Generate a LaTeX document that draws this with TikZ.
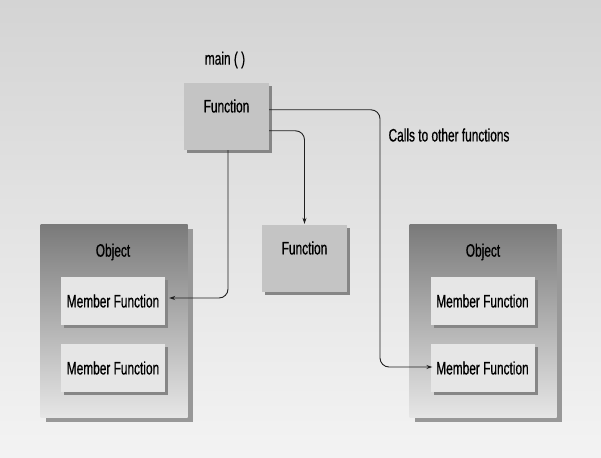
\documentclass[tikz,border=0pt]{standalone}
\usepackage{fontspec}
\setmainfont[FakeStretch=0.66,FakeBold=0.6]{Liberation Sans}
\usetikzlibrary{shadows,calc,arrows.meta}
\definecolor{bgtop}{HTML}{D4D4D4}
\definecolor{bgbot}{HTML}{F3F3F3}
\definecolor{funcfill}{HTML}{C4C4C4}
\definecolor{objtop}{HTML}{7A7A7A}
\definecolor{objbot}{HTML}{E6E6E6}
\definecolor{memfill}{HTML}{E6E6E6}
\definecolor{shad}{HTML}{868686}
\definecolor{linec}{HTML}{202020}
\begin{document}
\begin{tikzpicture}[x=1pt,y=-1pt,
  every node/.style={font=\fontsize{18}{20}\selectfont, text=black},
  fbox/.style={rectangle, fill=funcfill, minimum width=85pt, minimum height=67pt,
    inner sep=0pt, draw=none,
    drop shadow={shadow xshift=3pt, shadow yshift=-3pt, fill=shad, opacity=1}},
  objbox/.style={rectangle, top color=objtop, bottom color=objbot,
    minimum width=147pt, minimum height=193pt, inner sep=0pt, draw=none,
    drop shadow={shadow xshift=5pt, shadow yshift=-4pt, fill=shad!85, opacity=1}},
  mbox/.style={rectangle, fill=memfill, minimum width=104pt, minimum height=48pt,
    inner sep=0pt, draw=none,
    drop shadow={shadow xshift=3pt, shadow yshift=-3pt, fill=shad, opacity=1}},
  plain/.style={inner sep=0pt},
  conn/.style={draw=linec, line width=0.9pt, rounded corners=9pt,
    -{Stealth[length=6pt,width=4pt]}}
]
\useasboundingbox (0,0) rectangle (601,457);
\shade[top color=bgtop, bottom color=bgbot] (0,0) rectangle (601,457);

% top function
\node[plain] (mainlbl) at (225,60) {main ( )};
\node[fbox] (f1) at (226.5,116.5) {};
\node[plain] (f1t) at (226.5,106) {Function};

% middle function
\node[fbox] (f2) at (304.5,258.5) {};
\node[plain] (f2t) at (304.5,248) {Function};

% left object
\node[objbox] (o1) at (114,321) {};
\node[plain] (o1t) at (113,252) {Object};
\node[mbox] (m1) at (113,301) {Member Function};
\node[mbox] (m2) at (113,368) {Member Function};

% right object
\node[objbox] (o2) at (483,321) {};
\node[plain] (o2t) at (483,252) {Object};
\node[mbox] (m3) at (482.5,301) {Member Function};
\node[mbox] (m4) at (482.5,368) {Member Function};

\node[plain] (calls) at (449,135) {Calls to other functions};

% connectors
\coordinate (k1) at (380,250);
\draw[conn] ($(f1.north east)+(0,27)$) -| (k1) |- ($(m4.west)+(2,-1)$);
\draw[conn] ($(f1.north east)+(0,48)$) -| ($(f2.north)+(0,-1)$);
\draw[conn] ($(f1.south)+(1.5,0)$) |- ($(m1.east)+(4,-3)$);
\end{tikzpicture}
\end{document}
